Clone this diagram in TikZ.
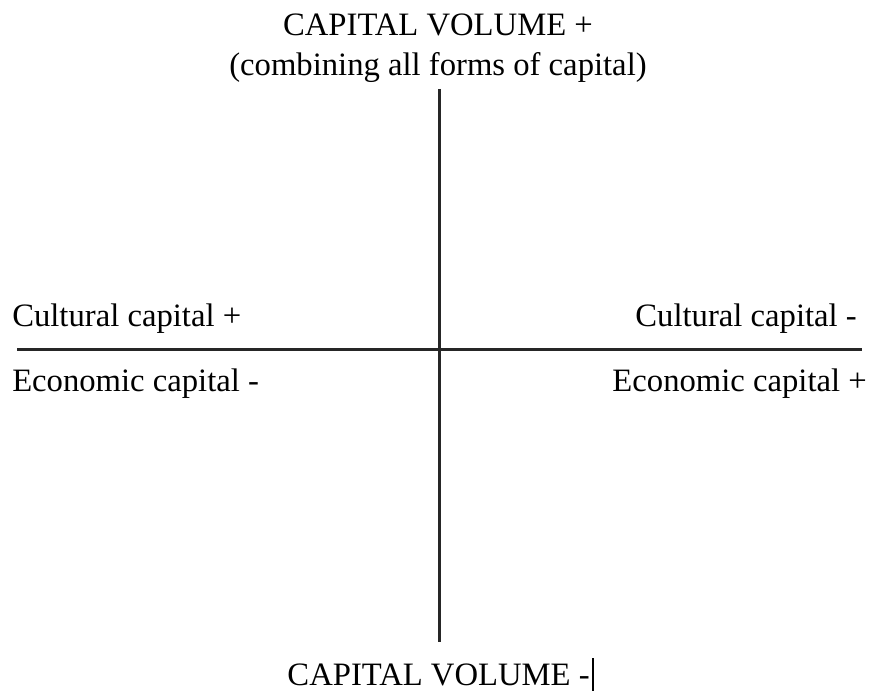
\documentclass[tikz,border=0pt]{standalone}
\usepackage{fontspec}
\setmainfont{Liberation Serif}
\begin{document}
\begin{tikzpicture}[x=0.75pt,y=-0.75pt,
  axis/.style={line width=2.3pt,color=black!85},
  lbl/.style={inner sep=0pt,font=\fontsize{24.5}{28}\selectfont,text=black}]
\useasboundingbox (0,0) rectangle (871,691);
\node[lbl,anchor=base] (top1) at (438,36) {CAPITAL VOLUME +};
\node[lbl,anchor=base] (top2) at (438,76) {(combining all forms of capital)};
\node[lbl,anchor=base west] (cl) at (12,327) {Cultural capital +};
\node[lbl,anchor=base west] (el) at (12,392) {Economic capital -};
\node[lbl,anchor=base east] (cr) at (857,327) {Cultural capital -};
\node[lbl,anchor=base east] (er) at (867,392) {Economic capital +};
\node[lbl,anchor=base east] (bot) at (590,685) {CAPITAL VOLUME -};
\coordinate (vt) at (439.5,89);
\coordinate (vb) at (439.5,642);
\coordinate (hl) at (17,349.5);
\coordinate (hr) at (862,349.5);
\coordinate (ct) at (593,658);
\coordinate (cb) at (593,691);
\draw[axis] (vt) -- (vb);
\draw[axis] (hl) -- (hr);
\draw[line width=0.8pt] (ct) -- (cb);
\end{tikzpicture}
\end{document}
